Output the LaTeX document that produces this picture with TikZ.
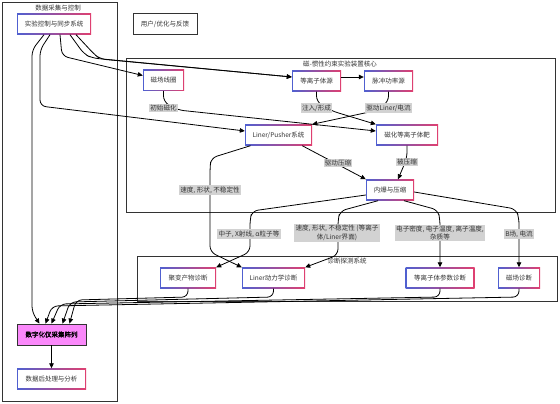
\documentclass[tikz,border=0pt]{standalone}
\usepackage{fontspec}
\setmainfont{Noto Sans CJK SC}[AutoFakeBold=2]
\usetikzlibrary{positioning,arrows.meta}
\definecolor{cblue}{RGB}{80,96,208}
\definecolor{cpink}{RGB}{224,64,112}
\definecolor{ink}{RGB}{51,51,51}
\definecolor{lblgray}{RGB}{210,210,210}
\definecolor{digfill}{RGB}{250,136,250}
\tikzset{gbox/.style={minimum width=#1, minimum height=21pt, inner sep=0pt, text=ink, font=\fontsize{6.5}{8}\selectfont,
	path picture={\shade[left color=cblue, right color=cpink] (path picture bounding box.south west) rectangle (path picture bounding box.north east);
		\fill[white] ([shift={(1.2pt,1.2pt)}]path picture bounding box.south west) rectangle ([shift={(-1.2pt,-1.2pt)}]path picture bounding box.north east);}}}
\tikzset{plainbox/.style={draw=ink, line width=0.8pt, fill=white, minimum width=#1, minimum height=21pt, inner sep=0pt, text=ink, font=\fontsize{6.5}{8}\selectfont}}
\tikzset{digbox/.style={plainbox=#1, fill=digfill, font=\fontsize{6.5}{8}\selectfont\bfseries, text=black}}
\tikzset{lbl/.style={fill=lblgray, text=ink, inner sep=1.2pt, align=center, font=\fontsize{6.6}{8.4}\selectfont}}
\tikzset{arr/.style={draw, line width=0.8pt, rounded corners=6pt, -{Triangle[length=5pt,width=4.5pt]}}}
\tikzset{cluster/.style={draw=ink, line width=0.7pt, fill=white}}
\tikzset{cltitle/.style={text=ink, inner sep=0pt, font=\fontsize{6.5}{8}\selectfont}}

\begin{document}
\begin{tikzpicture}[x=1pt, y=-1pt]
	\useasboundingbox (0,0) rectangle (560,404);

	% clusters
	\draw[cluster] (2,2) rectangle (117,401);
	\node[cltitle] (tDaq) at (58,8) {数据采集与控制};
	\draw[cluster] (126,58) rectangle (555,212);
	\node[cltitle] (tCore) at (340,64) {磁-惯性约束实验装置核心};
	\draw[cluster] (137,256) rectangle (557,301);
	\node[cltitle] (tDiag) at (347,261) {诊断探测系统};

	\node[gbox=74pt] (ctrl) at (54,24) {实验控制与同步系统};
	\node[plainbox=64pt] (user) at (165,24) {用户/优化与反馈};
	\node[digbox=69pt] (dig) at (51.5,334.5) {数字化仪采集阵列};
	\node[gbox=69pt] (post) at (51.5,379) {数据后处理与分析};

	\node[gbox=41pt] (coil) at (163.5,80.5) {磁场线圈};
	\node[gbox=49pt] (psrc) at (316.5,81) {等离子体源};
	\node[gbox=49pt] (pulse) at (388.5,81) {脉冲功率源};
	\node[gbox=67pt] (liner) at (278.5,135) {Liner/Pusher系统};
	\node[gbox=62pt] (tgt) at (407,135) {磁化等离子体靶};
	\node[gbox=48pt] (imp) at (390,190) {内爆与压缩};

	\node[gbox=56pt] (fusion) at (188,278) {聚变产物诊断};
	\node[gbox=63pt] (ldiag) at (273.5,278) {Liner动力学诊断};
	\node[gbox=69pt] (pdiag) at (440,278) {等离子体参数诊断};
	\node[gbox=42pt] (bdiag) at (519,278) {磁场诊断};

	% control lines
	\draw[arr] ([xshift=-10pt]ctrl.south) -- (32,50) -- (32,312) -- ([xshift=-12pt]dig.north);
	\draw[arr] ([xshift=-4pt]ctrl.south) -- (40,50) -- (40,106) -- ([yshift=4pt]liner.west);
	\draw[arr] ([xshift=6pt]ctrl.south) -- (62,56) -- ([yshift=5pt]coil.west);
	\draw[arr] ([xshift=16pt]ctrl.south) -- (84,54) -- (92,58) -- ([yshift=4pt]psrc.west);
	\draw[arr] ([xshift=22pt]ctrl.south) -- (94,54) -- (100,59) -- ([yshift=4pt]psrc.west);
	\draw[arr] ([yshift=4pt]psrc.east) -- ([yshift=4pt]pulse.west);

	\draw[arr] (coil.south) -- (163.5,102) -- (178,110) -- ([yshift=4pt]tgt.west);
	\draw[arr] (psrc.south) -- (316.5,102) -- (332,111) -- (tgt.north west);
	\draw[arr] (pulse.south) -- (388.5,102) -- (374,111) -- (liner.north east);
	\draw[arr] ([xshift=-10pt]liner.south east) -- (imp.north west);
	\draw[arr] (tgt.south) -- (407,158) -- ([xshift=8pt]imp.north);

	% to the diagnostics
	\draw[arr] ([xshift=-28pt]liner.south) -- (211,158) -- (210,168) -- (210,252) -- (ldiag.north west);
	\draw[arr] ([yshift=-5pt]imp.west) -- (252,211) -- (250,220) -- (250,252) -- (fusion.north east);
	\draw[arr] ([xshift=-12pt]imp.south) -- (340,211) -- (338,220) -- (338,255) -- (ldiag.north east);
	\draw[arr] ([xshift=14pt]imp.south) -- (438,210) -- (440,220) -- (pdiag.north);
	\draw[arr] ([yshift=-2pt]imp.east) -- (516,209) -- (519,218) -- (bdiag.north);

	\draw[arr] (fusion.south) -- (188,297) -- (76,300) -- ([xshift=18pt]dig.north);
	\draw[arr] (ldiag.south) -- (273.5,297) -- (70,302) -- ([xshift=11pt]dig.north);
	\draw[arr] (pdiag.south) -- (440,297) -- (60,304) -- (dig.north);
	\draw[arr] (bdiag.south) -- (519,297) -- (52,306) -- ([xshift=-6pt]dig.north);
	\draw[arr] (dig) -- (post);

	\node[lbl] (lInit) at (163.5,108) {初始磁化};
	\node[lbl] (lInj) at (316.5,108) {注入/形成};
	\node[lbl] (lDrv) at (388.5,108) {驱动Liner/电流};
	\node[lbl] (lCmp) at (338,163) {驱动压缩};
	\node[lbl] (lPsh) at (407,162) {被压缩};
	\node[lbl] (lVel) at (210,190) {速度, 形状, 不稳定性};
	\node[lbl] (lNeu) at (249,234) {中子, X射线, α粒子等};
	\node[lbl] (lIfc) at (337,233) {速度, 形状, 不稳定性 (等离子\\体/Liner界面)};
	\node[lbl] (lPar) at (440,233) {电子密度, 电子温度, 离子温度,\\杂质等};
	\node[lbl] (lBf) at (519,234) {B场, 电流};
\end{tikzpicture}
\end{document}
